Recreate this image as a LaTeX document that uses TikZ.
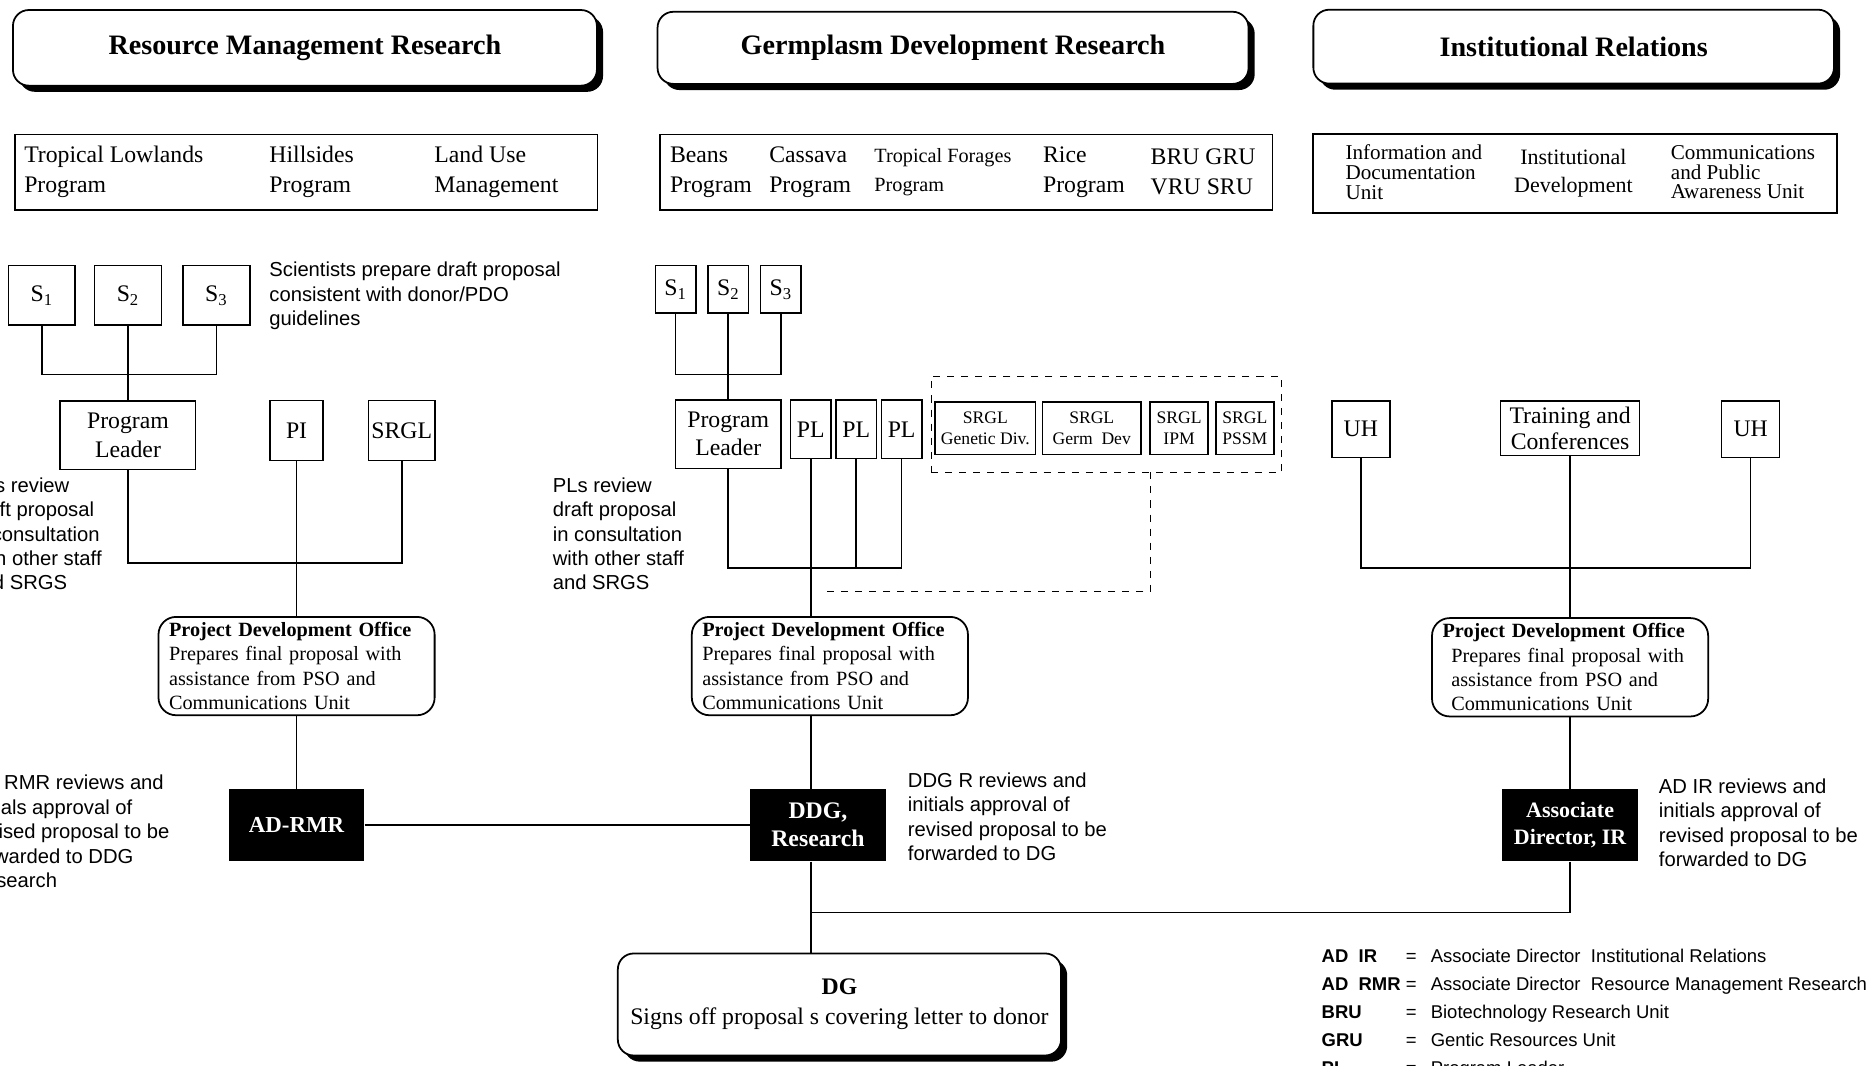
\documentclass[tikz,border=0pt]{standalone}
\usepackage{fontspec}
\setmainfont{Liberation Serif}
\setsansfont{Liberation Sans}
\usetikzlibrary{shadows}

\begin{document}
\begin{tikzpicture}[x=0.0239cm, y=-0.0239cm]
  \tikzstyle{hdr}   = [draw,line width=1pt,rounded corners=9pt,fill=white,
                       drop shadow={shadow xshift=3.5pt,shadow yshift=-3.5pt,fill=black,opacity=1},
                       font=\bfseries\fontsize{16}{19}\selectfont]
  \tikzstyle{prog}  = [draw,line width=0.8pt]
  \tikzstyle{ptext} = [anchor=west,align=left,inner sep=0pt,font=\fontsize{13.5}{17}\selectfont]
  \tikzstyle{unit}  = [draw,line width=0.9pt,fill=white,inner sep=1pt,align=center,
                       font=\fontsize{13.5}{16}\selectfont]
  \tikzstyle{srg}   = [unit,minimum height=30pt,font=\fontsize{10}{12}\selectfont]
  \tikzstyle{dbox}  = [draw,dash pattern=on 4pt off 4pt,line width=0.6pt]
  \tikzstyle{pdo}   = [draw,line width=1pt,rounded corners=10pt,fill=white,align=left,
                       text width=145pt,inner xsep=6pt,inner ysep=3pt,
                       font=\fontsize{11.5}{13.9}\selectfont]
  \tikzstyle{dark}  = [fill=black,text=white,align=center,minimum width=77pt,minimum height=41pt,
                       font=\bfseries\fontsize{13}{16}\selectfont]
  \tikzstyle{dgbox} = [hdr,align=center,font=\fontsize{13.5}{17}\selectfont]
  \tikzstyle{note}  = [anchor=north west,align=left,inner sep=0pt,
                       font=\sffamily\fontsize{11.5}{13.9}\selectfont]
  \tikzstyle{con}   = [line width=0.9pt]
  \tikzstyle{dline} = [line width=0.6pt,dash pattern=on 4pt off 4pt]
  \clip (0, 0) rectangle (1568, 891);
  % division headers
  \path ( 255, 40) node[hdr, minimum width=332pt, minimum height=43pt](rmr) {Resource Management Research};
  \path ( 797, 40) node[hdr, minimum width=336pt, minimum height=41pt](gdr) {Germplasm Development Research};
  \path (1316, 39) node[hdr, minimum width=296pt, minimum height=42pt](ir)  {Institutional Relations};
  % program lists
  \path ( 256, 144) node[prog, minimum width=331pt, minimum height=43pt](rmrprog) {};
  \path ( 808, 144) node[prog, minimum width=348pt, minimum height=43pt](gdrprog) {};
  \path (1317, 145) node[prog, minimum width=298pt, minimum height=45pt](irprog)  {};
  \path (  20, 144) node[ptext](tl)  {Tropical Lowlands\\Program};
  \path ( 225, 144) node[ptext](hs)  {Hillsides\\Program};
  \path ( 363, 144) node[ptext](lu)  {Land Use\\Management};
  \path ( 560, 144) node[ptext](bn)  {Beans\\Program};
  \path ( 643, 144) node[ptext](cs)  {Cassava\\Program};
  \path ( 731, 144) node[ptext, font=\fontsize{11.5}{17}\selectfont](tf) {Tropical Forages\\Program};
  \path ( 872, 144) node[ptext](rc)  {Rice\\Program};
  \path ( 962, 144) node[ptext](bru) {BRU GRU\\VRU SRU};
  \path (1125, 144) node[ptext, font=\fontsize{12}{11.3}\selectfont](idu) {Information and\\Documentation\\Unit};
  \path (1266, 145) node[ptext, align=center, font=\fontsize{12.5}{15.6}\selectfont](idev) {Institutional\\Development};
  \path (1397, 144) node[ptext, font=\fontsize{12}{11.3}\selectfont](cpa) {Communications\\and Public\\Awareness Unit};
  % resource management research
  \path (  35, 247) node[unit, minimum width=38pt, minimum height=34pt](rs1) {S\textsubscript{1}};
  \path ( 107, 247) node[unit, minimum width=38pt, minimum height=34pt](rs2) {S\textsubscript{2}};
  \path ( 181, 247) node[unit, minimum width=38pt, minimum height=34pt](rs3) {S\textsubscript{3}};
  \path ( 107, 364) node[unit, minimum width=77pt, minimum height=39pt](rpl) {Program\\Leader};
  \path ( 248, 360) node[unit, minimum width=30pt, minimum height=34pt](rpi) {PI};
  \path ( 336, 360) node[unit, minimum width=38pt, minimum height=34pt](rsrgl) {SRGL};
  \path ( 248, 557) node[pdo](rpdo) {\textbf{Project Development Office}\\Prepares final proposal with\\assistance from PSO and\\Communications Unit};
  \path ( 248, 690) node[dark](adrmr) {AD-RMR};
  % germplasm development research
  \path ( 565, 242) node[unit, minimum width=23pt, minimum height=27pt](ms1) {S\textsubscript{1}};
  \path ( 609, 242) node[unit, minimum width=23pt, minimum height=27pt](ms2) {S\textsubscript{2}};
  \path ( 653, 242) node[unit, minimum width=23pt, minimum height=27pt](ms3) {S\textsubscript{3}};
  \path ( 609, 363) node[unit, minimum width=60pt, minimum height=39pt](mpl) {Program\\Leader};
  \path ( 678, 359) node[unit, minimum width=23pt, minimum height=33pt](pl1) {PL};
  \path ( 716, 359) node[unit, minimum width=23pt, minimum height=33pt](pl2) {PL};
  \path ( 754, 359) node[unit, minimum width=23pt, minimum height=33pt](pl3) {PL};
  \path ( 925, 355) node[dbox, minimum width=199pt, minimum height=55pt](srgbox) {};
  \path ( 824, 358) node[srg, minimum width=57pt](sgd)   {SRGL\\Genetic Div.};
  \path ( 913, 358) node[srg, minimum width=56pt](sgm)   {SRGL\\Germ\ \ Dev};
  \path ( 986, 358) node[srg, minimum width=33pt](sipm)  {SRGL\\IPM};
  \path (1041, 358) node[srg, minimum width=33pt](spssm) {SRGL\\PSSM};
  \path ( 694, 557) node[pdo](mpdo) {\textbf{Project Development Office}\\Prepares final proposal with\\assistance from PSO and\\Communications Unit};
  \path ( 684, 690) node[dark, font=\bfseries\fontsize{13.5}{16}\selectfont](ddg) {DDG,\\Research};
  \path ( 702, 840) node[dgbox, minimum width=252pt, minimum height=58pt](dg) {\textbf{DG}\\Signs off proposal s covering letter to donor};
  % institutional relations
  \path (1138, 359) node[unit, minimum width=33pt, minimum height=32pt](uh1) {UH};
  \path (1313, 358) node[unit, minimum width=79pt, minimum height=31pt, font=\fontsize{13.5}{15}\selectfont](tc) {Training and\\Conferences};
  \path (1464, 359) node[unit, minimum width=33pt, minimum height=32pt](uh2) {UH};
  \path (1313, 558) node[pdo](irpdo) {\textbf{Project Development Office}\\\hspace*{5pt}Prepares final proposal with\\\hspace*{5pt}assistance from PSO and\\\hspace*{5pt}Communications Unit};
  \path (1313, 690) node[dark, font=\bfseries\fontsize{12.5}{15}\selectfont](adir) {Associate\\Director, IR};
  % notes
  \path ( 225, 219) node[note](nsci) {Scientists prepare draft proposal\\consistent with donor/PDO\\guidelines};
  \path ( -25, 399) node[note](nrpl) {PLs review\\draft proposal\\in consultation\\with other staff\\and SRGS};
  \path ( 462, 399) node[note](nmpl) {PLs review\\draft proposal\\in consultation\\with other staff\\and SRGS};
  \path ( -25, 648) node[note](nrmr) {AD RMR reviews and\\initials approval of\\revised proposal to be\\forwarded to DDG\\Research};
  \path ( 759, 646) node[note](nddg) {DDG R reviews and\\initials approval of\\revised proposal to be\\forwarded to DG};
  \path (1387, 651) node[note](nir)  {AD IR reviews and\\initials approval of\\revised proposal to be\\forwarded to DG};
  \path (1105, 788) node[note, font=\sffamily\fontsize{10.5}{16}\selectfont](legend) {%
    \begin{tabular}{@{}l@{\hspace{3pt}}l@{\hspace{8pt}}l@{}}
    \textbf{AD\ \ IR}  & = & Associate Director\ \ Institutional Relations\\
    \textbf{AD\ \ RMR} & = & Associate Director\ \ Resource Management Research\\
    \textbf{BRU}       & = & Biotechnology Research Unit\\
    \textbf{GRU}       & = & Gentic Resources Unit\\
    \textbf{PL}        & = & Program Leader
    \end{tabular}};
  % junctions
  \coordinate (rj1)  at ( 107, 313);
  \coordinate (rj2)  at ( 248, 471);
  \coordinate (mj1)  at ( 609, 313);
  \coordinate (mj2)  at ( 678, 475);
  \coordinate (ij)   at (1313, 475);
  \coordinate (dj)   at ( 678, 763);
  \coordinate (dtop) at ( 962, 395);
  \coordinate (dend) at ( 690, 495);
  % connectors
  \draw[con] (rs1.south) |- (rj1) -| (rs3.south);
  \draw[con] (rs2) -- (rpl);
  \draw[con] (rpl.south) |- (rj2) -| (rsrgl.south);
  \draw[con] (rpi) -- (rpdo);
  \draw[con] (rpdo) -- (adrmr);
  \draw[con] (adrmr) -- (ddg);
  \draw[con] (ms1.south) |- (mj1) -| (ms3.south);
  \draw[con] (ms2) -- (mpl);
  \draw[con] (mpl.south) |- (mj2) -| (pl3.south);
  \draw[con] (pl2.south) -- (pl2 |- mj2);
  \draw[con] (pl1.south) -- (pl1 |- mpdo.north);
  \draw[con] (mpdo.south -| pl1) -- (ddg.north -| pl1);
  \draw[con] (ddg.south -| pl1) -- (dg.north -| pl1);
  \draw[con] (adir.south) |- (dj);
  \draw[dline] (dtop) |- (dend);
  \draw[con] (uh1.south) |- (ij) -| (uh2.south);
  \draw[con] (tc) -- (irpdo);
  \draw[con] (irpdo) -- (adir);
\end{tikzpicture}
\end{document}
